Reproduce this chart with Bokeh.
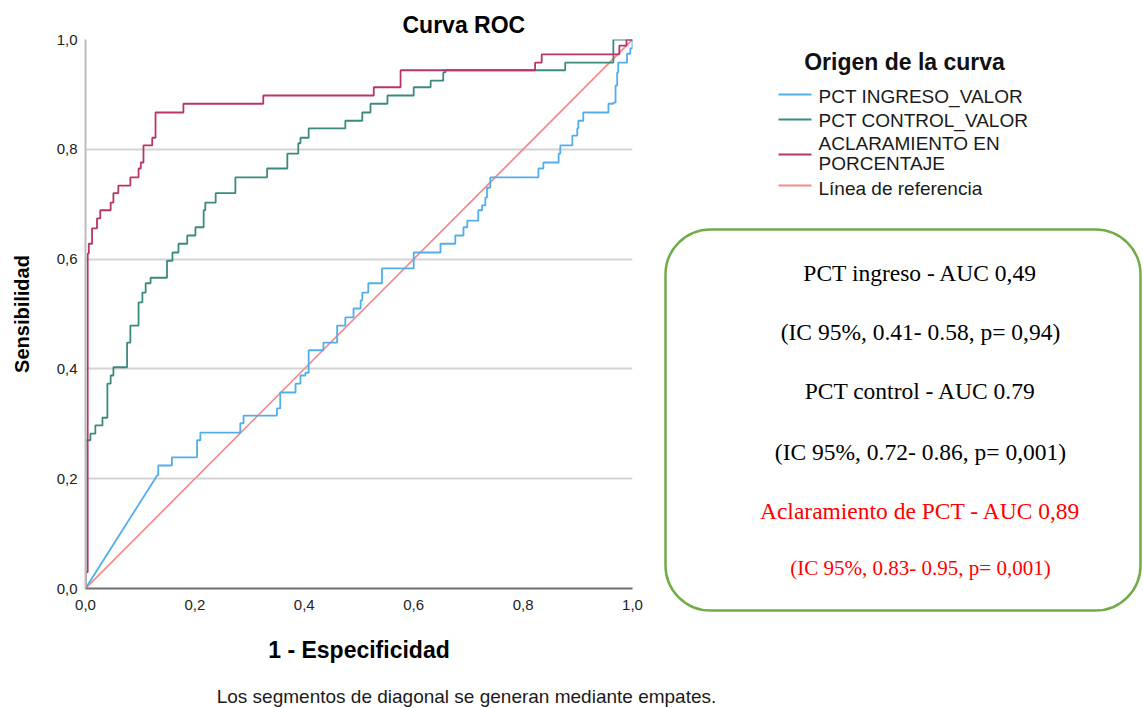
from bokeh.plotting import figure
from bokeh.models import Range1d, FixedTicker
from bokeh.layouts import row, column
from bokeh.embed import file_html
from bokeh.resources import INLINE
from bokeh.core.properties import value

# ---------------- data (ROC operating points) ----------------
ingreso_fpr = [0.0, 0.131, 0.133, 0.158, 0.158, 0.204, 0.204, 0.210, 0.280, 0.283, 0.289, 0.350, 0.350,
               0.356, 0.380, 0.384, 0.393, 0.402, 0.408, 0.433, 0.435, 0.457, 0.460, 0.472, 0.475, 0.490,
               0.490, 0.503, 0.506, 0.517, 0.542, 0.542, 0.594, 0.600, 0.645, 0.649, 0.676, 0.676, 0.689,
               0.691, 0.698, 0.716, 0.718, 0.725, 0.731, 0.734, 0.740, 0.828, 0.828, 0.837, 0.862, 0.865,
               0.868, 0.890, 0.890, 0.899, 0.901, 0.910, 0.954, 0.956, 0.965, 0.969, 0.972, 0.974, 0.981,
               0.990, 0.996, 1.0, 1.0]
ingreso_tpr = [0.0, 0.206, 0.224, 0.224, 0.239, 0.239, 0.270, 0.284, 0.284, 0.301, 0.315, 0.315, 0.328,
               0.357, 0.357, 0.373, 0.388, 0.393, 0.434, 0.434, 0.448, 0.448, 0.479, 0.479, 0.494, 0.494,
               0.510, 0.525, 0.539, 0.556, 0.556, 0.583, 0.583, 0.612, 0.612, 0.628, 0.628, 0.643, 0.643,
               0.658, 0.670, 0.670, 0.689, 0.698, 0.712, 0.730, 0.749, 0.749, 0.765, 0.776, 0.776, 0.792,
               0.807, 0.807, 0.825, 0.838, 0.852, 0.867, 0.867, 0.883, 0.885, 0.916, 0.940, 0.958, 0.958,
               0.974, 0.984, 0.995, 1.0]

control_fpr = [0.0, 0.0, 0.003, 0.009, 0.018, 0.031, 0.040, 0.040, 0.046, 0.051, 0.076, 0.076, 0.082,
               0.097, 0.097, 0.104, 0.110, 0.119, 0.149, 0.149, 0.159, 0.170, 0.186, 0.201, 0.216, 0.219,
               0.238, 0.259, 0.274, 0.329, 0.332, 0.366, 0.369, 0.389, 0.393, 0.408, 0.475, 0.475, 0.506,
               0.521, 0.552, 0.600, 0.631, 0.654, 0.658, 0.870, 0.877, 0.951, 0.965, 1.0]
control_tpr = [0.0, 0.270, 0.270, 0.282, 0.297, 0.311, 0.311, 0.373, 0.388, 0.403, 0.403, 0.448, 0.479,
               0.479, 0.521, 0.539, 0.556, 0.566, 0.566, 0.597, 0.612, 0.628, 0.643, 0.658, 0.689, 0.703,
               0.720, 0.720, 0.749, 0.749, 0.765, 0.765, 0.792, 0.811, 0.821, 0.838, 0.838, 0.852, 0.867,
               0.883, 0.898, 0.913, 0.925, 0.940, 0.944, 0.944, 0.958, 0.958, 1.0, 1.0]

aclar_fpr = [0.0, 0.0, 0.004, 0.004, 0.006, 0.012, 0.021, 0.027, 0.046, 0.051, 0.060, 0.082,
             0.097, 0.101, 0.106, 0.122, 0.128, 0.179, 0.179, 0.325, 0.325, 0.525, 0.527, 0.576, 0.576,
             0.819, 0.822, 0.832, 0.834, 0.973, 0.976, 0.987, 0.989, 1.0]
aclar_tpr = [0.0, 0.030, 0.030, 0.610, 0.628, 0.656, 0.674, 0.689, 0.703, 0.720, 0.734, 0.749,
             0.765, 0.776, 0.807, 0.821, 0.867, 0.867, 0.883, 0.883, 0.898, 0.898, 0.913, 0.913, 0.944,
             0.944, 0.958, 0.958, 0.973, 0.973, 0.989, 0.989, 1.0, 1.0]

ref_fpr = [0.0, 1.0]
ref_tpr = [0.0, 1.0]

tick_values = [0.0, 0.2, 0.4, 0.6, 0.8, 1.0]
tick_labels = ["0,0", "0,2", "0,4", "0,6", "0,8", "1,0"]

legend_title = "Origen de la curva"
legend_labels = [["PCT INGRESO_VALOR"], ["PCT CONTROL_VALOR"],
                 ["ACLARAMIENTO EN", "PORCENTAJE"], ["Línea de referencia"]]

box_texts = ["PCT ingreso - AUC 0,49",
             "(IC 95%, 0.41- 0.58, p= 0,94)",
             "PCT control - AUC 0.79",
             "(IC 95%, 0.72- 0.86, p= 0,001)",
             "Aclaramiento de PCT - AUC 0,89",
             "(IC 95%, 0.83- 0.95, p= 0,001)"]

footnote = "Los segmentos de diagonal se generan mediante empates."


def roc_path(xs, ys, tie=0.05):
    """Staircase path through ROC points; large joint moves (ties) stay diagonal."""
    px, py = [xs[0]], [ys[0]]
    for i in range(1, len(xs)):
        dx = xs[i] - xs[i - 1]
        dy = ys[i] - ys[i - 1]
        if dx > 0 and dy > 0 and not (dx > tie and dy > tie):
            px.append(xs[i])
            py.append(ys[i - 1])
        px.append(xs[i])
        py.append(ys[i])
    return px, py


# ---------------- styles ----------------
SANS = "Liberation Sans"
SERIF = "Liberation Serif"
C_ING = "#52AEEA"
C_CTL = "#3B8A80"
C_ACL = "#B8346B"
C_REF = "#F48A8A"
series_colors = [C_ING, C_CTL, C_ACL, C_REF]

# ---------------- main ROC figure ----------------
p = figure(width=650, height=680, x_range=Range1d(0, 1), y_range=Range1d(0, 1),
           toolbar_location=None, output_backend="svg",
           min_border_left=85, min_border_right=18, min_border_top=39, min_border_bottom=92,
           title="Curva ROC")
p.frame_align = False
p.title.text_font = SANS
p.title.text_font_size = "23px"
p.title.text_font_style = "bold"
p.title.text_color = "#000000"
p.title.align = "left"
p.title.offset = 317
p.title.vertical_align = "top"
p.title.standoff = 0
p.outline_line_color = None
p.background_fill_color = "white"
p.border_fill_color = "white"

p.xgrid.visible = False
p.ygrid.ticker = FixedTicker(ticks=tick_values[1:])
p.ygrid.grid_line_color = "#D4D4D4"
p.ygrid.grid_line_width = 2

for ax in (p.xaxis[0], p.yaxis[0]):
    ax.ticker = FixedTicker(ticks=tick_values)
    ax.major_label_overrides = {v: l for v, l in zip(tick_values, tick_labels)}
    ax.major_tick_line_color = None
    ax.minor_tick_line_color = None
    ax.major_tick_out = 0
    ax.major_tick_in = 0
    ax.major_label_text_font = SANS
    ax.major_label_text_font_size = "15px"
    ax.major_label_text_color = "#222222"
    ax.axis_label_text_font = SANS
    ax.axis_label_text_font_style = "bold"
    ax.axis_label_text_color = "#000000"
    ax.axis_line_width = 2

p.xaxis.axis_label = "1 - Especificidad"
p.yaxis.axis_label = "Sensibilidad"
p.xaxis.axis_label_text_font_size = "23px"
p.yaxis.axis_label_text_font_size = "20px"
p.xaxis.axis_line_color = "#6E6E6E"
p.yaxis.axis_line_color = "#BDBDBD"
p.xaxis.major_label_standoff = 11
p.xaxis.axis_label_standoff = 24
p.yaxis.major_label_standoff = 8
p.yaxis.axis_label_standoff = 21

p.line(ref_fpr, ref_tpr, line_color=C_REF, line_width=1.7)
for fx, fy, col in ((ingreso_fpr, ingreso_tpr, C_ING),
                    (control_fpr, control_tpr, C_CTL),
                    (aclar_fpr, aclar_tpr, C_ACL)):
    sx, sy = roc_path(fx, fy)
    p.line(sx, sy, line_color=col, line_width=1.8)

# ---------------- side panel (legend + annotation box) ----------------
s = figure(width=493, height=680, x_range=Range1d(650, 1143), y_range=Range1d(680, 0),
           toolbar_location=None, output_backend="svg",
           x_axis_location=None, y_axis_location=None,
           min_border_left=0, min_border_right=0, min_border_top=0, min_border_bottom=0)
s.frame_align = False
s.outline_line_color = None
s.grid.visible = False

s.text(x=[904], y=[61], text=[legend_title], text_font=value(SANS), text_font_size="23px",
       text_font_style="bold", text_align="center", text_baseline="middle", text_color="#111111")

item_text_y = [[96], [120], [143, 163], [188]]
item_line_y = [94, 119, 154, 185]
for lab, col, ty, ly in zip(legend_labels, series_colors, item_text_y, item_line_y):
    s.line([778, 811], [ly, ly], line_color=col, line_width=2)
    s.text(x=[818] * len(lab), y=ty, text=lab, text_font=value(SANS), text_font_size="19px",
           text_align="left", text_baseline="middle", text_color="#1A1A1A")

s.quad(left=[665], right=[1140], top=[229], bottom=[610], fill_color=None,
       line_color="#70AD47", line_width=2.5, border_radius=45)

box_y = [272, 331, 390, 451, 510, 567]
box_colors = ["#000000", "#000000", "#000000", "#000000", "#FF0000", "#FF0000"]
box_sizes = ["23.5px", "23.5px", "23.5px", "23.5px", "23.5px", "21px"]
for t, y, c, fs in zip(box_texts, box_y, box_colors, box_sizes):
    s.text(x=[920], y=[y], text=[t], text_font=value(SERIF), text_font_size=fs,
           text_align="center", text_baseline="middle", text_color=c)

# ---------------- footnote strip ----------------
f = figure(width=1143, height=28, x_range=Range1d(0, 1143), y_range=Range1d(708, 680),
           toolbar_location=None, output_backend="svg",
           x_axis_location=None, y_axis_location=None,
           min_border_left=0, min_border_right=0, min_border_top=0, min_border_bottom=0)
f.frame_align = False
f.outline_line_color = None
f.grid.visible = False
f.text(x=[466], y=[696], text=[footnote], text_font=value(SANS), text_font_size="19px",
       text_align="center", text_baseline="middle", text_color="#1A1A1A")

layout = column(row(p, s), f)
open("out.html", "w").write(file_html(layout, INLINE))
